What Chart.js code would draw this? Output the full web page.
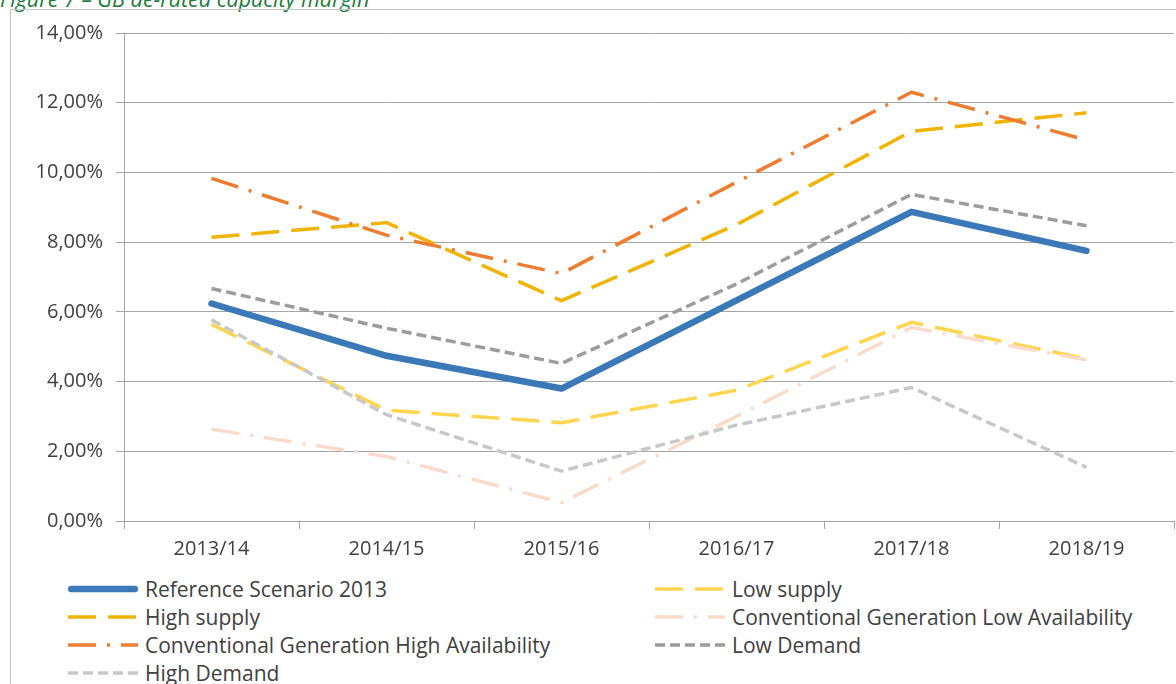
<!DOCTYPE html>
<html>
<head>
<meta charset="utf-8">
<script src="https://cdn.jsdelivr.net/npm/chart.js@4.4.0/dist/chart.umd.min.js"></script>
<style>
  body { margin: 0; background: #fff; width: 1176px; height: 684px; overflow: hidden; position: relative; font-family: "Open Sans", sans-serif; }
  #title { position: absolute; left: 0; top: -16px; font-style: italic; color: #1e7b3c; font-size: 21.5px; white-space: nowrap; }
  #frame { position: absolute; left: 10px; top: 9px; width: 1300px; height: 800px; border: 1px solid #c4c4c4; }
  #wrap { position: absolute; left: 0; top: 0; width: 1176px; height: 575px; }
  .item { position: absolute; height: 28px; display: flex; align-items: center; font-size: 21px; color: #404040; white-space: nowrap; }
  .item svg { margin-right: 7px; }
</style>
</head>
<body>
<div id="title">Figure 7 – GB de-rated capacity margin</div>
<div id="frame"></div>
<div id="wrap"><canvas id="marginChart"></canvas></div>
<div id="legend"></div>
<script>
// Data (de-rated capacity margin, %)
const years = ['2013/14', '2014/15', '2015/16', '2016/17', '2017/18', '2018/19'];
const referenceScenario = [6.24, 4.74, 3.80, 6.33, 8.87, 7.75];
const lowSupply = [5.64, 3.18, 2.82, 3.75, 5.70, 4.65];
const highSupply = [8.14, 8.56, 6.32, 8.50, 11.18, 11.71];
const convGenLowAvail = [2.63, 1.85, 0.53, 3.00, 5.55, 4.62];
const convGenHighAvail = [9.83, 8.20, 7.10, 9.72, 12.30, 10.93];
const lowDemand = [6.67, 5.53, 4.52, 6.80, 9.37, 8.47];
const highDemand = [5.77, 3.05, 1.43, 2.75, 3.83, 1.54];
const yTicks = [0, 2, 4, 6, 8, 10, 12, 14];

const FONT = '"Open Sans", sans-serif';
const TEXT = '#404040';
const GRID = '#a6a6a6';

const series = [
    { label: 'Reference Scenario 2013', data: referenceScenario, color: '#3a78b8', width: 6.5, dash: [], cap: 'round' },
    { label: 'Low supply', data: lowSupply, color: '#ffd54f', width: 3.5, dash: [28, 12] },
    { label: 'High supply', data: highSupply, color: '#f0b400', width: 3.5, dash: [28, 12] },
    { label: 'Conventional Generation Low Availability', data: convGenLowAvail, color: '#fadbcb', width: 3.5, dash: [28, 11, 3, 11] },
    { label: 'Conventional Generation High Availability', data: convGenHighAvail, color: '#ed7d31', width: 3.5, dash: [28, 11, 3, 11] },
    { label: 'Low Demand', data: lowDemand, color: '#9c9c9c', width: 3.5, dash: [10, 5] },
    { label: 'High Demand', data: highDemand, color: '#c8c8c8', width: 3.5, dash: [10, 5] }
];

document.addEventListener('DOMContentLoaded', function() {
    initChart();
    buildLegend();
});

function initChart() {
    const ctx = document.getElementById('marginChart').getContext('2d');
    new Chart(ctx, {
        type: 'line',
        data: {
            labels: years,
            datasets: series.map((s, i) => ({
                label: s.label,
                data: s.data,
                borderColor: s.color,
                borderWidth: s.width,
                borderDash: s.dash,
                borderCapStyle: s.cap || 'butt',
                borderJoinStyle: 'round',
                pointRadius: 0,
                tension: 0,
                fill: false,
                order: -i
            }))
        },
        options: {
            responsive: true,
            maintainAspectRatio: false,
            animation: false,
            layout: { padding: { top: 33, right: 2, left: 0, bottom: 0 } },
            plugins: { legend: { display: false }, tooltip: { enabled: false } },
            scales: {
                x: {
                    offset: true,
                    grid: { display: true, drawOnChartArea: false, drawTicks: true, tickLength: 8, offset: true, color: GRID },
                    border: { display: true, color: GRID },
                    ticks: { color: TEXT, font: { family: FONT, size: 20 }, padding: 8, maxRotation: 0, autoSkip: false },
                    afterFit: function(scale) { scale.height = 54; }
                },
                y: {
                    min: 0,
                    max: 14,
                    afterBuildTicks: function(scale) { scale.ticks = yTicks.map(v => ({ value: v })); },
                    ticks: {
                        color: TEXT,
                        font: { family: FONT, size: 20 },
                        padding: 13,
                        callback: v => v.toFixed(2).replace('.', ',') + '%'
                    },
                    grid: { color: GRID, tickLength: 8 },
                    border: { color: GRID },
                    afterFit: function(scale) { scale.width = 124; }
                }
            }
        }
    });
}

function buildLegend() {
    const legend = document.getElementById('legend');
    const cols = [68, 655];
    const rows = [589, 617, 645, 673];
    series.forEach((s, i) => {
        const item = document.createElement('div');
        item.className = 'item';
        item.style.left = cols[i % 2] + 'px';
        item.style.top = (rows[Math.floor(i / 2)] - 14) + 'px';
        const dash = s.dash.length ? s.dash.join(' ') : 'none';
        const cap = s.cap || 'butt';
        const pad = cap === 'round' ? s.width / 2 : 0;
        item.innerHTML =
            '<svg width="70" height="12"><line x1="' + pad + '" y1="6" x2="' + (70 - pad) + '" y2="6" stroke="' + s.color +
            '" stroke-width="' + s.width + '" stroke-dasharray="' + dash + '" stroke-linecap="' + cap + '"/></svg>' +
            '<span>' + s.label + '</span>';
        legend.appendChild(item);
    });
}
</script>
</body>
</html>
